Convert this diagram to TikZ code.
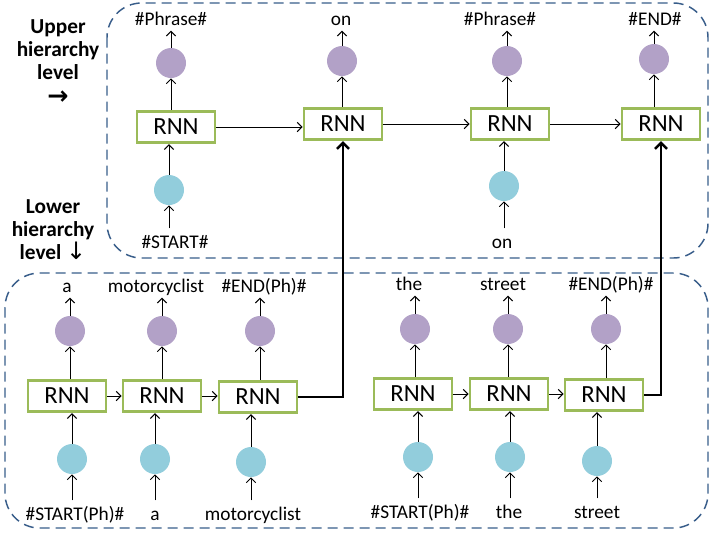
\documentclass[tikz,border=0pt]{standalone}
\usepackage{fontspec}
\setmainfont{Carlito}
\newfontfamily\djv{DejaVu Sans}
\usetikzlibrary{arrows.meta}
\definecolor{purp}{RGB}{178,161,199}
\definecolor{cblue}{RGB}{146,205,220}
\definecolor{rgreen}{RGB}{155,187,89}
\definecolor{dashblue}{RGB}{56,93,138}
\tikzset{
  rnnbox/.style={draw=rgreen, line width=2.2pt, fill=white, minimum width=58.5pt, minimum height=23.5pt, inner sep=0pt, font=\fontsize{18.5}{21}\selectfont},
  outc/.style={circle, fill=purp, minimum size=22.5pt, inner sep=0pt},
  inc/.style={circle, fill=cblue, minimum size=22.5pt, inner sep=0pt},
  lbl/.style={font=\fontsize{14.5}{16}\selectfont, inner sep=1pt, text height=10.5pt, text depth=3pt},
  side/.style={font=\fontsize{16}{17.3}\selectfont\bfseries, align=center, inner sep=0pt},
  arr/.style={-{Straight Barb[length=3.5pt,width=7pt]}, line width=0.75pt},
  tarr/.style={-{Straight Barb[length=4.5pt,width=9pt]}, line width=1.9pt},
  region/.style={draw=dashblue, line width=1.1pt, dash pattern=on 7.5pt off 4.5pt, rounded corners=26pt}
}
\begin{document}
\begin{tikzpicture}[x=0.75pt,y=-0.75pt]
\useasboundingbox (0,0) rectangle (713,537);

% regions
\draw[region] (107,3) rectangle (708,258);
\draw[region] (5,273) rectangle (708,528);

% side labels
\node[side] (uplab) at (58,50) {Upper\\hierarchy\\level};
\node[inner sep=0pt, font=\djv\bfseries\fontsize{19}{20}\selectfont] (uparrow) at (58,98) {→};
\node[side] (lowlab) at (53,230) {Lower\\hierarchy\\level {\djv\mdseries\fontsize{18}{17.3}\selectfont ↓}};

% upper level
\node[rnnbox] (u1) at (176,127) {RNN};
\node[rnnbox] (u2) at (343,124) {RNN};
\node[rnnbox] (u3) at (510,124) {RNN};
\node[rnnbox] (u4) at (661,124) {RNN};

\node[outc] (up1) at (171,63) {};
\node[outc] (up2) at (342,61) {};
\node[outc] (up3) at (507,61) {};
\node[outc] (up4) at (654,59) {};

\node[lbl] (ut1) at (171,20) {\#Phrase\#};
\node[lbl] (ut2) at (341,20) {on};
\node[lbl] (ut3) at (500,20) {\#Phrase\#};
\node[lbl] (ut4) at (655,20) {\#END\#};

\node[inc] (ui1) at (169,190) {};
\node[inc] (ui3) at (504,186) {};
\node[lbl] (ub1) at (175,243) {\#START\#};
\node[lbl] (ub3) at (502,243) {on};

\draw[arr] (u1.east) -- (u1.east -| u2.west);
\draw[arr] (u2.east) -- (u3.west);
\draw[arr] (u3.east) -- (u4.west);

\foreach \r/\p/\t in {u1/up1/ut1, u2/up2/ut2, u3/up3/ut3, u4/up4/ut4}{
  \draw[arr] (\p.south |- \r.north) -- (\p.south);
  \draw[arr] (\p.north) -- (\p.north |- \t.south);
}
\draw[arr] (ui1.north) -- (ui1.north |- u1.south);
\draw[arr] (ui3.north) -- (ui3.north |- u3.south);
\draw[arr, shorten <=3pt] (ub1.north -| ui1) -- (ui1.south);
\draw[arr, shorten <=3pt] (ub3.north -| ui3) -- (ui3.south);

% lower level
\node[rnnbox] (l1) at (67,396) {RNN};
\node[rnnbox] (l2) at (162,396) {RNN};
\node[rnnbox] (l3) at (258,397) {RNN};
\node[rnnbox] (l4) at (413,394) {RNN};
\node[rnnbox] (l5) at (509,394) {RNN};
\node[rnnbox] (l6) at (604,395) {RNN};

\node[outc] (lp1) at (70,331) {};
\node[outc] (lp2) at (162,331) {};
\node[outc] (lp3) at (260,331) {};
\node[outc] (lp4) at (415,329) {};
\node[outc] (lp5) at (508,329) {};
\node[outc] (lp6) at (606,329) {};

\node[lbl] (lt1) at (67,287) {a};
\node[lbl] (lt2) at (156,287) {motorcyclist};
\node[lbl] (lt3) at (264,287) {\#END(Ph)\#};
\node[lbl] (lt4) at (409,285) {the};
\node[lbl] (lt5) at (503,285) {street};
\node[lbl] (lt6) at (611,285) {\#END(Ph)\#};

\node[inc] (li1) at (72,459) {};
\node[inc] (li2) at (155,459) {};
\node[inc] (li3) at (251,462) {};
\node[inc] (li4) at (418,457) {};
\node[inc] (li5) at (510,457) {};
\node[inc] (li6) at (597,461) {};

\node[lbl] (lb1) at (75,515) {\#START(Ph)\#};
\node[lbl] (lb2) at (155,515) {a};
\node[lbl] (lb3) at (253,515) {motorcyclist};
\node[lbl] (lb4) at (420,513) {\#START(Ph)\#};
\node[lbl] (lb5) at (509,513) {the};
\node[lbl] (lb6) at (597,513) {street};

\draw[arr] (l1.east) -- (l2.west);
\draw[arr] (l2.east) -- (l2.east -| l3.west);
\draw[arr] (l4.east) -- (l5.west);
\draw[arr] (l5.east) -- (l5.east -| l6.west);

\foreach \i in {1,...,6}{
  \draw[arr] (lp\i.south |- l\i.north) -- (lp\i.south);
  \draw[arr] (lp\i.north) -- (lp\i.north |- lt\i.south);
  \draw[arr] (li\i.north) -- (li\i.north |- l\i.south);
  \draw[arr, shorten <=3pt] (lb\i.north -| li\i) -- (li\i.south);
}

% connections between levels
\draw[tarr] (l3.east) -| (u2.south);
\draw[tarr] (l6.east) -| (u4.south);
\end{tikzpicture}
\end{document}
